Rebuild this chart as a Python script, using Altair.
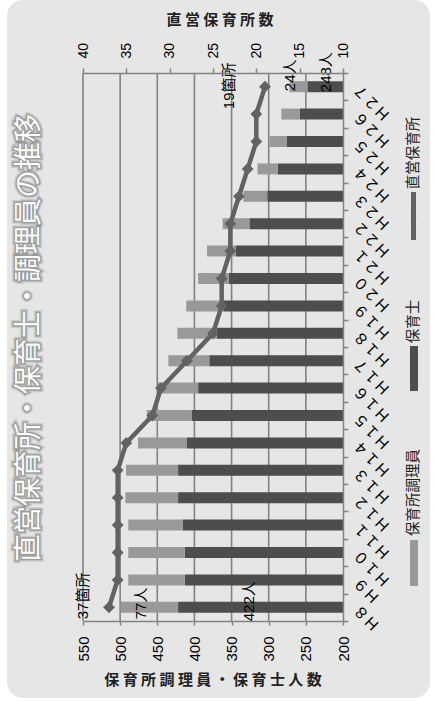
import altair as alt
import pandas as pd

# ---------------- data ----------------
categories = ["H8", "H9", "H10", "H11", "H12", "H13", "H14", "H15", "H16", "H17",
              "H18", "H19", "H20", "H21", "H22", "H23", "H24", "H25", "H26", "H27"]
hoikushi = [422, 413, 413, 416, 422, 422, 410, 404, 395, 380,
            370, 361, 354, 344, 326, 302, 288, 276, 258, 248]
chouriin = [77, 76, 76, 73, 71, 70, 66, 60, 54, 55,
            53, 50, 41, 39, 36, 32, 27, 23, 25, 24]
shisetsu = [37, 36, 36, 36, 36, 36, 35, 32, 31, 28,
            25, 24, 24, 23, 23, 22, 21, 20, 20, 19]
left_ticks = [550, 500, 450, 400, 350, 300, 250, 200]
top_ticks = [40, 35, 30, 25, 20, 15, 10]
series_names = ["直営保育所", "保育士", "保育所調理員"]
title_text = "直営保育所・保育士・調理員の推移"
left_title = "保 育 所 調 理 員 ・ 保 育 士 人 数"
top_title = "直 営 保 育 所 数"

# ---------------- tables ----------------
AXIS_MIN = min(left_ticks)
n = len(categories)
df = pd.DataFrame({
    "cat": categories,
    "idx": list(range(n)),
    "hoikushi": hoikushi,
    "chouriin": chouriin,
    "shisetsu": shisetsu,
})
# full-width rendering of the category labels (as in the Japanese original)
FW = str.maketrans({c: chr(ord(c) + 0xFEE0) for c in "H0123456789"})
df["cat_fw"] = [c.translate(FW) for c in categories]
df["base"] = AXIS_MIN
df["total"] = df["hoikushi"] + df["chouriin"]
df["mid_dark"] = (df["hoikushi"] + AXIS_MIN) / 2
df["mid_light"] = df["hoikushi"] + df["chouriin"] / 2
df["lab_dark"] = df["hoikushi"].astype(str) + "人"
df["lab_light"] = df["chouriin"].astype(str) + "人"
df["lab_count"] = df["shisetsu"].astype(str) + "箇所"

grid_df = pd.DataFrame({"v": [t for t in left_ticks if t != AXIS_MIN]})
one = pd.DataFrame({"k": [0]})

# ---------------- styles ----------------
JP = "Noto Sans CJK JP"
NUM = "Liberation Sans, Noto Sans CJK JP"
GRID = "#828282"
DARK = "#4d4d4d"
LIGHT = "#999999"
LINE = "#626262"
CARD = "#e6e6e6"
PLOT_W = 260
PLOT_H = 548

xscale_left = alt.Scale(domain=[min(left_ticks), max(left_ticks)], reverse=True, nice=False, zero=False)
xscale_top = alt.Scale(domain=[min(top_ticks), max(top_ticks)], reverse=True, nice=False, zero=False)

axis_left = alt.Axis(orient="bottom", values=left_ticks, title=None, grid=False,
                     labelAngle=270, labelAlign="right", labelBaseline="middle",
                     labelPadding=11, tickSize=4, tickColor=GRID, tickWidth=1.5,
                     domainColor=GRID, domainWidth=1.5, labelFont=NUM, labelFontSize=15,
                     labelColor="#000000", labelFlush=False, labelOverlap=False, zindex=1)
axis_top = alt.Axis(orient="top", values=top_ticks, title=None, grid=False,
                    labelAngle=270, labelAlign="left", labelBaseline="middle",
                    labelPadding=10, tickSize=5, tickColor=GRID, tickWidth=1.5,
                    domainColor=GRID, domainWidth=1.5, labelFont=NUM, labelFontSize=14,
                    labelColor="#000000", labelFlush=False, labelOverlap=False, zindex=1)
axis_y = alt.Axis(orient="right", title=None, grid=False, labels=False,
                  tickBand="extent", tickSize=5, tickColor=GRID, tickWidth=1.5,
                  domainColor=GRID, domainWidth=1.5, zindex=1)

Y = alt.Y("cat:N", sort=categories[::-1],
          scale=alt.Scale(paddingInner=0, paddingOuter=0), axis=axis_y)


def XL(field):
    return alt.X(field, scale=xscale_left, axis=axis_left)


def XT(field):
    return alt.X(field, scale=xscale_top, axis=axis_top)


base = alt.Chart(df)

# ---------------- decorations ----------------
card = alt.Chart(one).mark_rect(fill=CARD, cornerRadius=16).encode(
    x=alt.value(-76), x2=alt.value(347), y=alt.value(-73), y2=alt.value(625))

title_props = dict(text=title_text, angle=270, align="center", baseline="middle",
                   font=JP, fontSize=28)
title_glow_outer = alt.Chart(one).mark_text(
    fill="#7a7a7a", stroke="#7a7a7a", strokeWidth=6, strokeOpacity=0.25, fillOpacity=0.3,
    **title_props).encode(x=alt.value(-53), y=alt.value(265))
title_glow = alt.Chart(one).mark_text(
    fill="#7a7a7a", stroke="#7a7a7a", strokeWidth=3, strokeOpacity=0.55,
    **title_props).encode(x=alt.value(-53), y=alt.value(265))
title_main = alt.Chart(one).mark_text(fill="#ffffff", **title_props).encode(
    x=alt.value(-53), y=alt.value(265))

top_title_mark = alt.Chart(one).mark_text(
    text=top_title, align="center", baseline="middle", font=JP, fontSize=15,
    fontWeight="bold", color="#222222"
).encode(x=alt.value(137), y=alt.value(-53))
left_title_mark = alt.Chart(one).mark_text(
    text=left_title, align="center", baseline="middle", font=JP, fontSize=15,
    fontWeight="bold", color="#222222"
).encode(x=alt.value(130), y=alt.value(607))

# ---------------- legend ----------------
leg_line = alt.Chart(one).mark_rule(color=LINE, strokeWidth=5).encode(
    x=alt.value(330.5), y=alt.value(119), y2=alt.value(167))
leg_pt = alt.Chart(one).mark_point(shape="diamond", filled=True, size=40, color=LINE, opacity=1).encode(
    x=alt.value(330.5), y=alt.value(143))
leg_t1 = alt.Chart(one).mark_text(text=series_names[0], angle=270, align="center", baseline="middle",
                                  font=JP, fontSize=14.5, color="#222222").encode(
    x=alt.value(331), y=alt.value(80))
leg_r2 = alt.Chart(one).mark_rect(color=DARK).encode(
    x=alt.value(327), x2=alt.value(335), y=alt.value(273), y2=alt.value(318))
leg_t2 = alt.Chart(one).mark_text(text=series_names[1], angle=270, align="center", baseline="middle",
                                  font=JP, fontSize=14.5, color="#222222").encode(
    x=alt.value(331), y=alt.value(248.5))
leg_r3 = alt.Chart(one).mark_rect(color=LIGHT).encode(
    x=alt.value(327), x2=alt.value(335), y=alt.value(467), y2=alt.value(513))
leg_t3 = alt.Chart(one).mark_text(text=series_names[2], angle=270, align="center", baseline="middle",
                                  font=JP, fontSize=14.5, color="#222222").encode(
    x=alt.value(331), y=alt.value(419.5))

# ---------------- category labels (rotated, right side) ----------------
cat_labels = base.mark_text(angle=225, align="right", baseline="middle", font=JP,
                            fontSize=15, color="#000000").encode(
    x=alt.value(PLOT_W + 13), y=Y, text="cat_fw:N")

# ---------------- bars ----------------
grid = alt.Chart(grid_df).mark_rule(color=GRID, strokeWidth=1.6).encode(x=XL("v:Q"))
dark = base.mark_bar(size=11, color=DARK).encode(x=XL("hoikushi:Q"), x2="base:Q", y=Y)
light = base.mark_bar(size=11, color=LIGHT).encode(x=XL("total:Q"), x2="hoikushi:Q", y=Y)

first = categories[0]
last = categories[-1]
txt = dict(angle=270, align="left", baseline="middle", font=NUM, fontSize=15, color="#000000")

lab_light_first = base.transform_filter(alt.datum.cat == first).mark_text(dx=-12, dy=-8.5, **txt).encode(
    x=XL("mid_light:Q"), y=Y, text="lab_light:N")
lab_dark_first = base.transform_filter(alt.datum.cat == first).mark_text(dx=-14, dy=-11.5, **txt).encode(
    x=XL("mid_dark:Q"), y=Y, text="lab_dark:N")
lab_light_last = base.transform_filter(alt.datum.cat == last).mark_text(dx=-4.5, dy=-8, **txt).encode(
    x=XL("mid_light:Q"), y=Y, text="lab_light:N")
lab_dark_last = base.transform_filter(alt.datum.cat == last).mark_text(dx=-5.5, dy=1, **txt).encode(
    x=XL("mid_dark:Q"), y=Y, text="lab_dark:N")

# ---------------- line ----------------
line = base.mark_line(color=LINE, strokeWidth=4.5).encode(x=XT("shisetsu:Q"), y=Y, order="idx:Q")
pts = base.mark_point(shape="diamond", filled=True, size=140, color=LINE, opacity=1).encode(
    x=XT("shisetsu:Q"), y=Y)
lab_cnt_first = base.transform_filter(alt.datum.cat == first).mark_text(dx=-12, dy=-26, **txt).encode(
    x=XT("shisetsu:Q"), y=Y, text="lab_count:N")
lab_cnt_last = base.transform_filter(alt.datum.cat == last).mark_text(dx=-22.5, dy=-36.5, **txt).encode(
    x=XT("shisetsu:Q"), y=Y, text="lab_count:N")

layer_bars = alt.layer(card, grid, dark, light, lab_light_first, lab_dark_first,
                       lab_light_last, lab_dark_last, title_glow_outer, title_glow, title_main,
                       top_title_mark, left_title_mark, cat_labels,
                       leg_line, leg_pt, leg_t1, leg_r2, leg_t2, leg_r3, leg_t3)
layer_line = alt.layer(line, pts, lab_cnt_first, lab_cnt_last)

chart = alt.layer(layer_bars, layer_line).resolve_scale(x="independent").properties(
    width=PLOT_W, height=PLOT_H,
    autosize=alt.AutoSizeParams(type="none"),
    padding={"left": 83, "top": 73, "right": 91, "bottom": 80},
    background="#ffffff",
).configure_view(stroke=None)

chart.save("out.html", embed_options={"renderer": "svg", "actions": False})
